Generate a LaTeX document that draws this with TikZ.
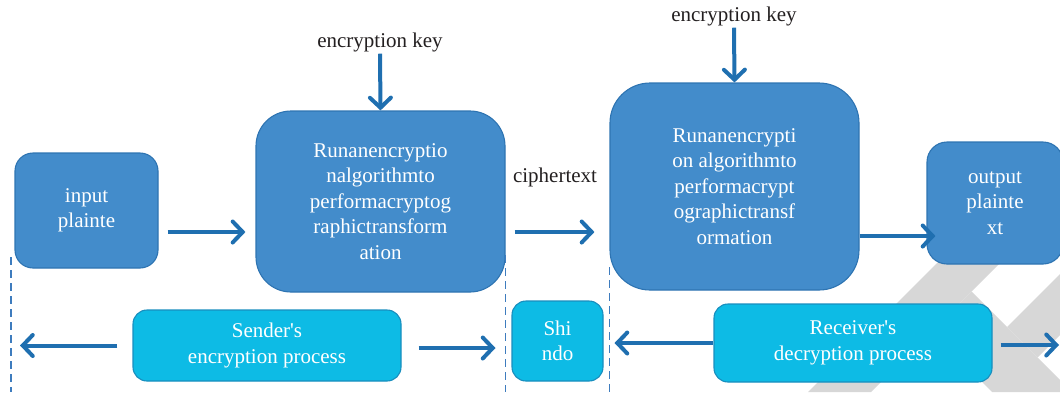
\documentclass[tikz,border=0pt]{standalone}
\usepackage{fontspec}
\setmainfont{Liberation Serif}
\usetikzlibrary{arrows.meta,calc}

\definecolor{boxblue}{RGB}{67,140,203}
\definecolor{boxedge}{RGB}{46,116,178}
\definecolor{cyanbox}{RGB}{13,187,229}
\definecolor{cyanedge}{RGB}{24,142,190}
\definecolor{arrowblue}{RGB}{31,111,176}
\definecolor{dashblue}{RGB}{62,124,190}
\definecolor{inkblack}{RGB}{35,31,32}
\definecolor{wmgrey}{RGB}{215,215,215}

\newcommand\dgfont{\fontsize{21}{25.5}\selectfont}

\tikzset{
  mainbox/.style={draw=boxedge, fill=boxblue, line width=1.1pt, text=white,
    align=center, inner sep=0pt, font=\dgfont},
  procbox/.style={draw=cyanedge, fill=cyanbox, line width=1.1pt, text=white,
    align=center, inner sep=0pt, font=\dgfont, rounded corners=14pt},
  label/.style={text=inkblack, font=\dgfont, inner sep=1.5pt},
  flow/.style={draw=arrowblue, line width=4pt,
    -{Straight Barb[length=10pt,width=21pt,line cap=round]}},
  divider/.style={draw=dashblue, line width=1.2pt, dash pattern=on 8pt off 5pt},
}

\begin{document}
\begin{tikzpicture}[x=1pt,y=-1pt]
\useasboundingbox (0,0) rectangle (1060,392);

% background watermark bands
\begin{scope}
  \clip (790,256) rectangle (1060,392);
  \fill[wmgrey] (944,256) -- (1007,256) -- (871,392) -- (808,392) -- cycle;
  \fill[wmgrey] (971.5,291.5) -- (1072,392) -- (992,392) -- (931.5,331.5) -- cycle;
  \fill[wmgrey] (1007,327) -- (1037.5,357.5) -- (1139,256) -- (1078,256) -- cycle;
\end{scope}

% main row
\node[mainbox, rounded corners=18pt, minimum width=143pt, minimum height=115pt]
  (input) at (86.5,210.5) {input\\plainte};
\node[mainbox, rounded corners=35pt, minimum width=249pt, minimum height=181pt]
  (enc) at (380.5,201.5)
  {Runanencryptio\\nalgorithmto\\performacryptog\\raphictransform\\ation};
\node[mainbox, rounded corners=40pt, minimum width=249pt, minimum height=207pt]
  (dec) at (734.5,186.5)
  {Runanencrypti\\on algorithmto\\performacrypt\\ographictransf\\ormation};
\node[mainbox, rounded corners=20pt, minimum width=136pt, minimum height=122pt]
  (output) at (995,203) {output\\plainte\\xt};

% key and channel labels
\node[label, anchor=base] (key1) at (380,47.5) {encryption key};
\node[label, anchor=base] (key2) at (734,21.5) {encryption key};
\node[label, anchor=base] (cipher) at (555,182) {ciphertext};

% process row
\node[procbox, minimum width=268pt, minimum height=71pt]
  (sender) at (267,345.5) {Sender\textquotesingle s\\encryption process};
\node[procbox, minimum width=91pt, minimum height=80pt]
  (shindo) at (557.5,341) {Shi\\ndo};
\node[procbox, minimum width=278pt, minimum height=78pt]
  (receiver) at (853,343) {Receiver\textquotesingle s\\decryption process};

% dividers
\coordinate (d1top) at (11,257);
\coordinate (d1bot) at (11,392);
\coordinate (d2top) at (505.5,255);
\coordinate (d2bot) at (505.5,392);
\coordinate (d3top) at (609.5,267);
\coordinate (d3bot) at (609.5,392);
\draw[divider] (d1top) -- (d1bot);
\draw[divider] (d2top) -- (d2bot);
\draw[divider] (d3top) -- (d3bot);

% key arrows
\draw[flow] (key1.south) -- (enc.north);
\draw[flow] (key2.south) -- (dec.north);

% data flow
\draw[flow] ($(input.east)+(9,21.5)$) -- ($(enc.west |- input.east)+(-10,21.5)$);
\draw[flow] ($(enc.east |- input.east)+(9,21.5)$) -- ($(dec.west |- input.east)+(-15,21.5)$);
\draw[flow] ($(dec.east |- output.west)+(0,33)$) -- ($(output.west)+(9,33)$);

% process arrows
\draw[flow] ($(sender.west)+(-15,0)$) -- ($(d1top |- sender.west)+(9,0)$);
\draw[flow] ($(sender.east)+(17,2.5)$) -- ($(d2top |- sender.east)+(-10,2.5)$);
\draw[flow] (receiver.west) -- ($(d3top |- receiver.west)+(5,0)$);
\coordinate (rightend) at (1059,345);
\draw[flow] ($(receiver.east)+(8,2)$) -- (rightend);
\end{tikzpicture}
\end{document}
